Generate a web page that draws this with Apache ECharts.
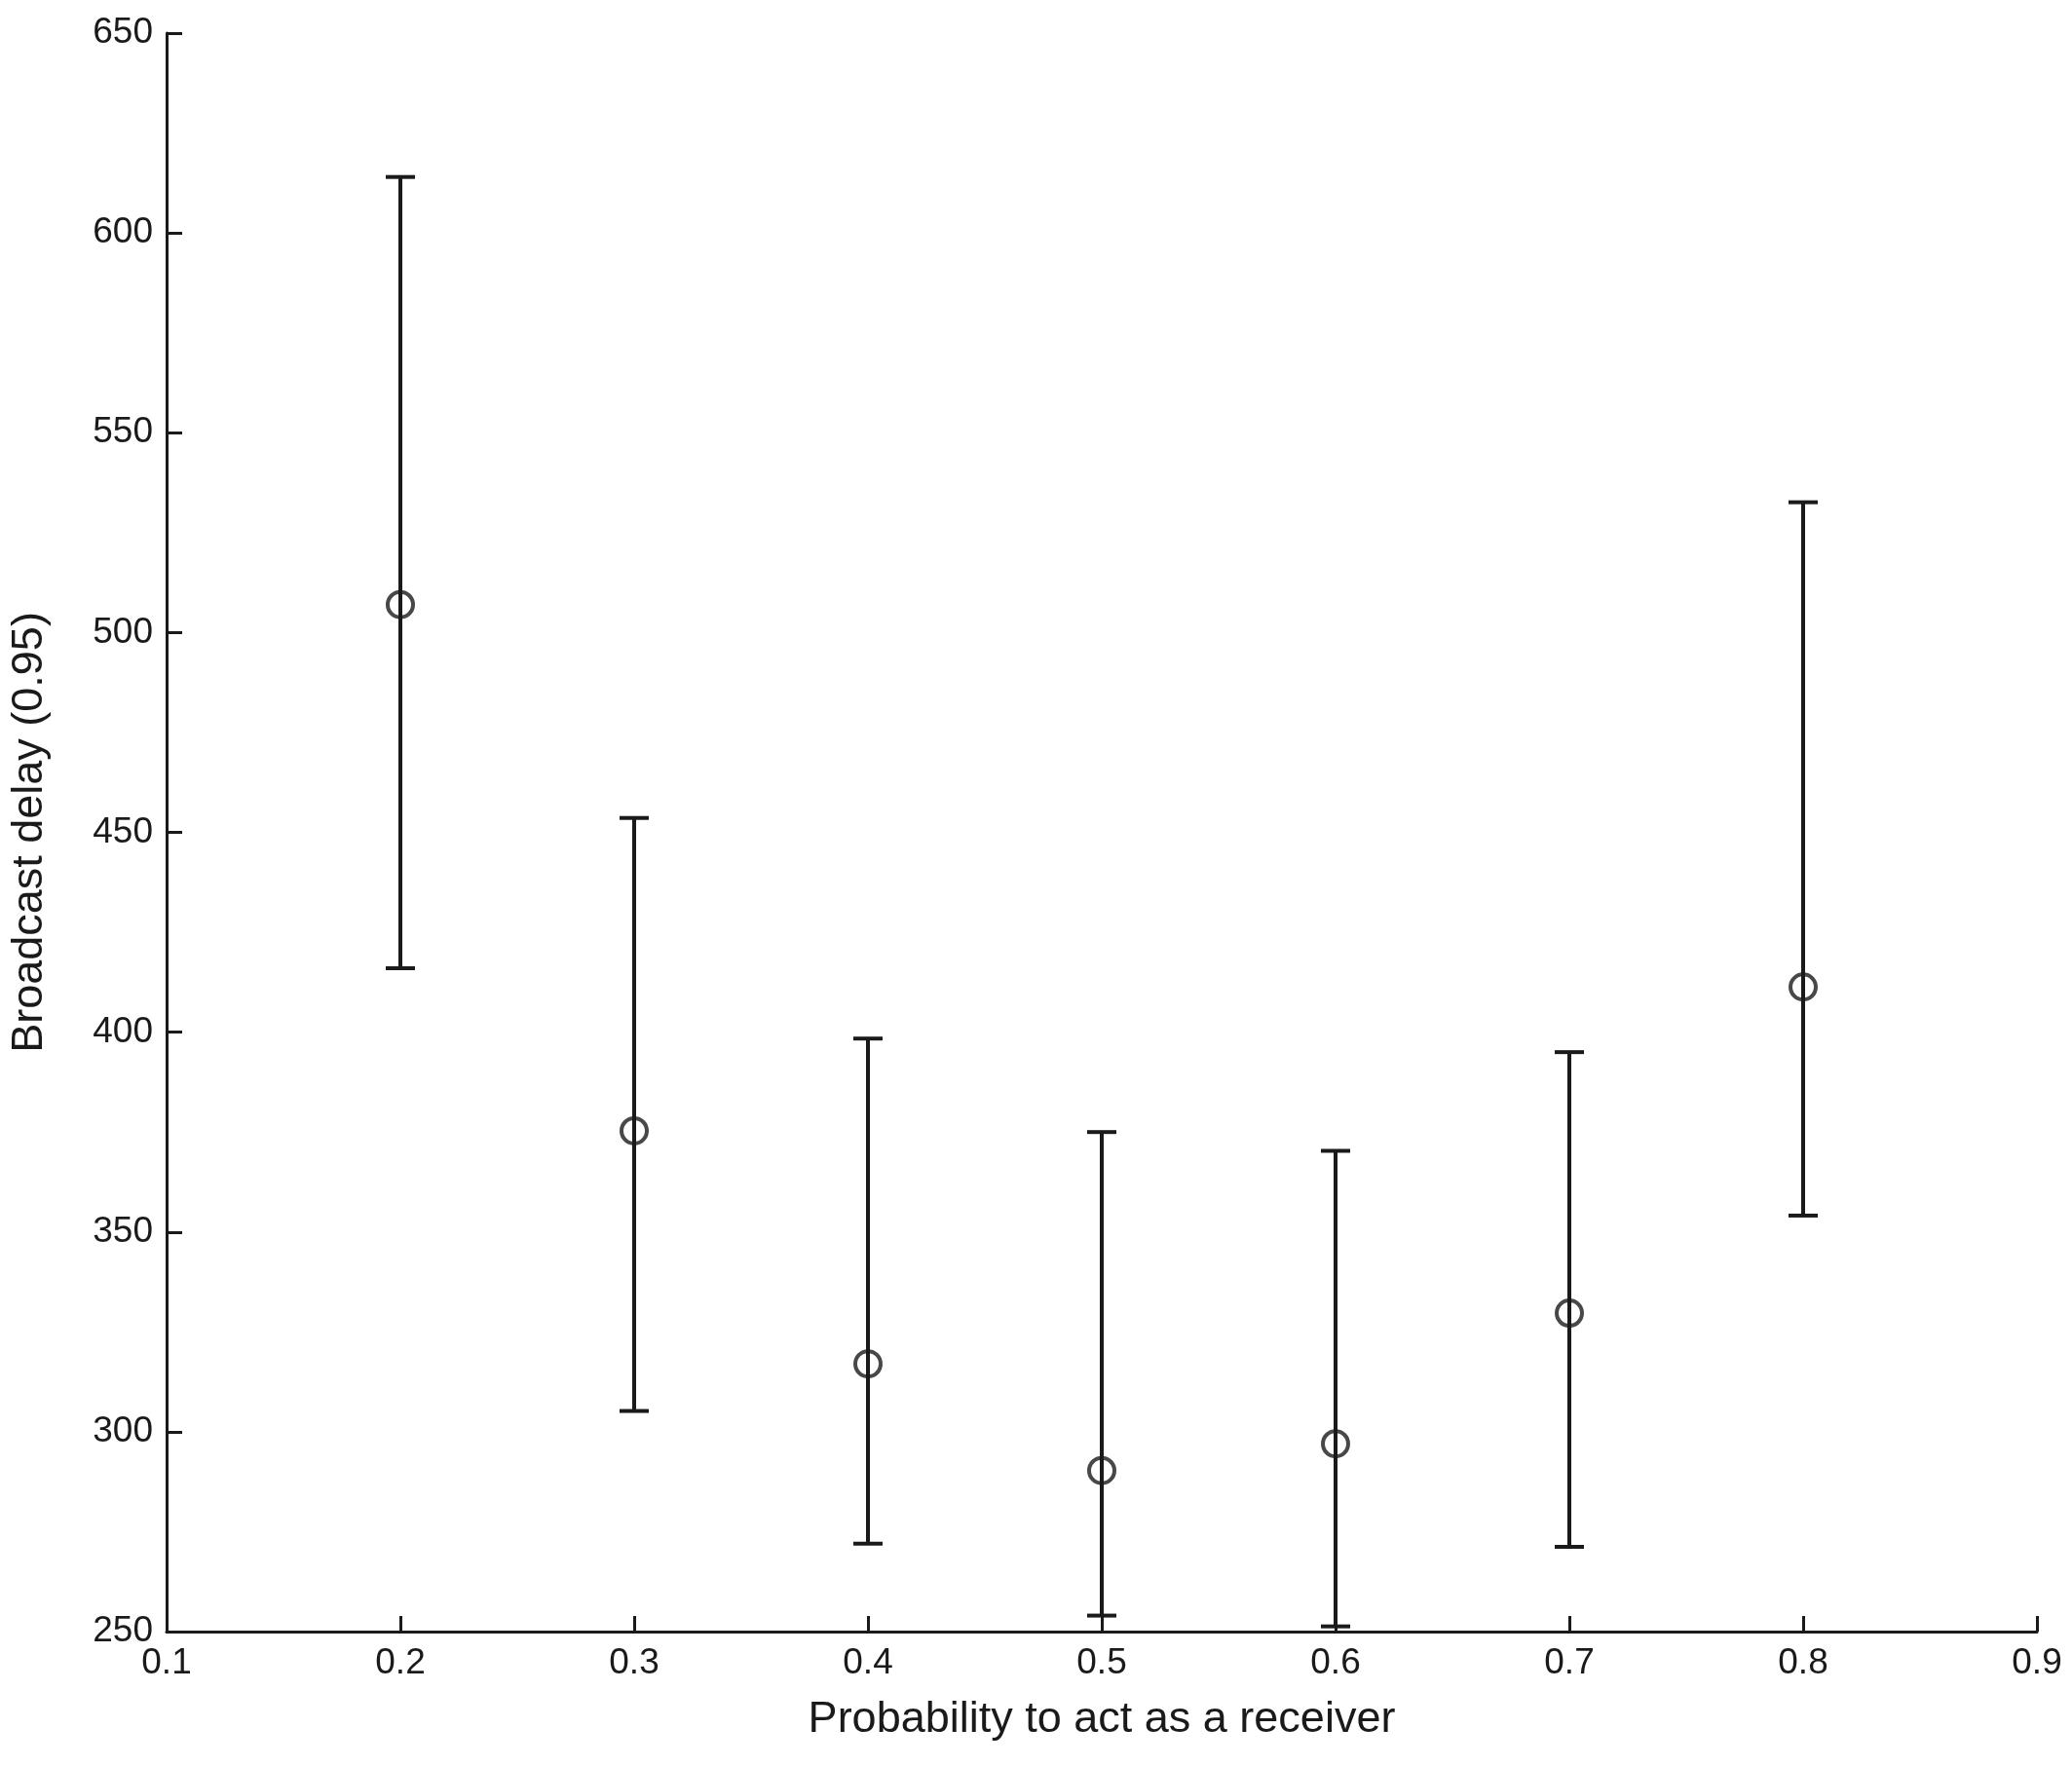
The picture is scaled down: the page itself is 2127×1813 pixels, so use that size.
<!DOCTYPE html>
<html><head><meta charset="utf-8">
<script src="https://cdn.jsdelivr.net/npm/echarts@6/dist/echarts.min.js"></script>
<style>html,body{margin:0;padding:0;background:#fff}#c{width:2127px;height:1813px}</style>
</head><body><div id="c"></div>
<script>
const xs = [0.2, 0.3, 0.4, 0.5, 0.6, 0.7, 0.8];
const means = [507, 375.3, 317, 290.3, 297, 329.7, 411.3];
const upper = [614, 453.6, 398.4, 375, 370.3, 395, 532.6];
const lower = [416, 305.2, 272, 254, 251.3, 271.2, 354.1];
const xTicks = [0.1,0.2,0.3,0.4,0.5,0.6,0.7,0.8,0.9];
const yTicks = [250,300,350,400,450,500,550,600,650];

const chart = echarts.init(document.getElementById('c'));
const font = 'Liberation Sans';
const C = '#1a1a1a';
chart.setOption({
  animation:false,
  grid:{left:170,right:36,top:34,bottom:138,containLabel:false},
  xAxis:{type:'value',min:0.1,max:0.9,interval:0.1,
    name:'Probability to act as a receiver',nameLocation:'middle',nameGap:68,
    nameTextStyle:{fontFamily:font,fontSize:45,color:C},
    axisLine:{lineStyle:{color:C,width:3}},
    axisTick:{inside:true,length:16,lineStyle:{color:C,width:3}},
    axisLabel:{fontFamily:font,fontSize:37,color:C,margin:14,formatter:v=>v.toFixed(1)},
    splitLine:{show:false}},
  yAxis:{type:'value',min:250,max:650,interval:50,
    name:'Broadcast delay (0.95)',nameLocation:'middle',nameGap:118,
    nameTextStyle:{fontFamily:font,fontSize:45,color:C},
    axisLine:{show:true,lineStyle:{color:C,width:3}},
    axisTick:{show:true,inside:true,length:16,lineStyle:{color:C,width:3}},
    axisLabel:{fontFamily:font,fontSize:37,color:C,margin:14},
    splitLine:{show:false}},
  series:[
    {type:'custom',data:xs.map((x,i)=>[x,lower[i],upper[i]]),z:2,
     renderItem:(p,api)=>{
       const lo=api.coord([api.value(0),api.value(1)]);
       const hi=api.coord([api.value(0),api.value(2)]);
       const w=15;
       const st={stroke:C,lineWidth:4};
       return {type:'group',children:[
         {type:'line',shape:{x1:lo[0],y1:lo[1],x2:hi[0],y2:hi[1]},style:st},
         {type:'line',shape:{x1:lo[0]-w,y1:lo[1],x2:lo[0]+w,y2:lo[1]},style:st},
         {type:'line',shape:{x1:hi[0]-w,y1:hi[1],x2:hi[0]+w,y2:hi[1]},style:st}]};
     }},
    {type:'scatter',data:xs.map((x,i)=>[x,means[i]]),symbol:'circle',symbolSize:26,z:3,
     itemStyle:{color:'rgba(0,0,0,0)',borderColor:C,borderWidth:4}}
  ]
});
</script></body></html>
